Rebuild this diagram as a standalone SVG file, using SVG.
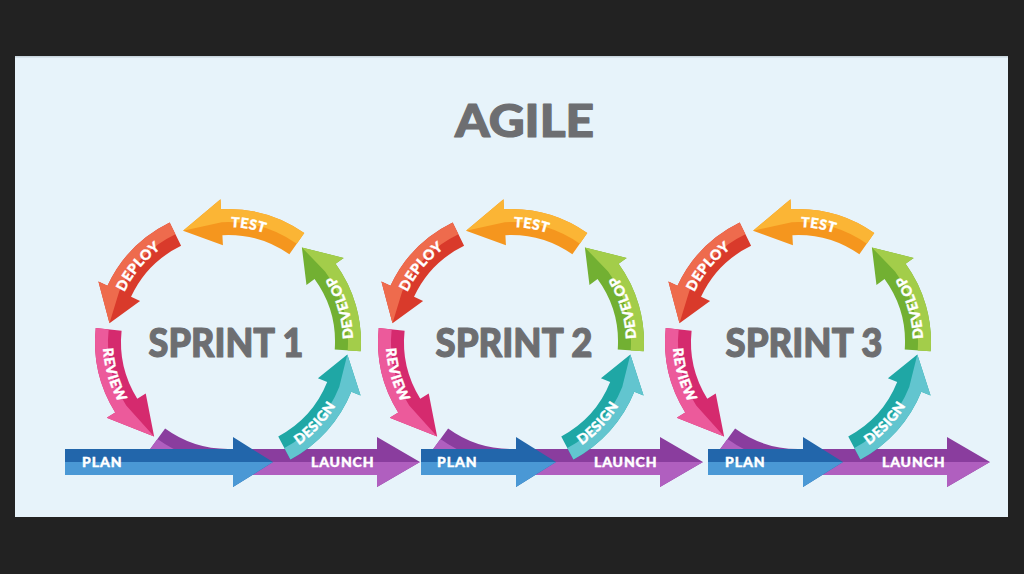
<svg xmlns="http://www.w3.org/2000/svg" width="1024" height="574" viewBox="0 0 1024 574">
<style>
.f{font-family:Lato,'Open Sans','Liberation Sans',sans-serif;font-weight:900}
.title{fill:#6d6e71;stroke:#6d6e71;stroke-width:1.2px;stroke-linejoin:round}
.lbl{fill:#ffffff;stroke:#ffffff;stroke-width:0.4px;font-size:14px;letter-spacing:0.5px}
.test-d{fill:#f5961e}.test-l{fill:#fbb535}
.deploy-d{fill:#d93a2b}.deploy-l{fill:#ee6b4d}
.review-d{fill:#d52a6e}.review-l{fill:#ec5a9b}
.develop-d{fill:#72b032}.develop-l{fill:#a3cd4a}
.design-d{fill:#1fa7a5}.design-l{fill:#62c5cf}
.plan-d{fill:#2266ab}.plan-l{fill:#4a98d5}
.launch-d{fill:#8a3d9e}.launch-l{fill:#b05fbf}
</style>
<defs>
<path id="design-full" d="M62.44,117.43 A133,133 0 0 0 123.32,49.82 L132.59,53.57 L119.34,12.54 L89.94,36.34 L99.21,40.08 A107,107 0 0 1 50.24,94.47 Z"/>
<path id="design-light" d="M62.44,117.43 A133,133 0 0 0 123.32,49.82 L132.59,53.57 L119.34,12.54 L111.26,44.95 A120,120 0 0 1 56.34,105.95 Z"/>
<path id="develop-full" d="M132.68,9.28 A133,133 0 0 0 107.60,-78.18 L115.69,-84.06 L73.88,-94.56 L78.47,-57.02 L86.56,-62.89 A107,107 0 0 1 106.74,7.47 Z"/>
<path id="develop-light" d="M132.68,9.28 A133,133 0 0 0 107.60,-78.18 L115.69,-84.06 L73.88,-94.56 L97.08,-70.54 A120,120 0 0 1 119.71,8.38 Z"/>
<path id="test-full" d="M76.29,-108.95 A133,133 0 0 0 -6.96,-132.81 L-7.48,-142.80 L-44.95,-111.26 L-5.07,-96.86 L-5.60,-106.85 A107,107 0 0 1 61.38,-87.65 Z"/>
<path id="test-light" d="M76.29,-108.95 A133,133 0 0 0 -6.96,-132.81 L-7.48,-142.80 L-44.95,-111.26 L-6.28,-119.83 A120,120 0 0 1 68.83,-98.30 Z"/>
<path id="deploy-full" d="M-58.31,-119.54 A133,133 0 0 0 -120.54,-56.21 L-129.60,-60.43 L-118.52,-18.77 L-87.91,-40.99 L-96.97,-45.22 A107,107 0 0 1 -46.91,-96.17 Z"/>
<path id="deploy-light" d="M-58.31,-119.54 A133,133 0 0 0 -120.54,-56.21 L-129.60,-60.43 L-118.52,-18.77 L-108.76,-50.71 A120,120 0 0 1 -52.61,-107.86 Z"/>
<path id="review-full" d="M-132.27,-13.90 A133,133 0 0 0 -112.78,70.48 L-121.26,75.78 L-73.88,94.56 L-82.26,51.40 L-90.74,56.70 A107,107 0 0 1 -106.41,-11.18 Z"/>
<path id="review-light" d="M-132.27,-13.90 A133,133 0 0 0 -112.78,70.48 L-121.26,75.78 L-73.88,94.56 L-101.76,63.59 A120,120 0 0 1 -119.34,-12.54 Z"/>
<path id="launch-full" d="M-78.18,107.60 A133,133 0 0 0 0,133 L149,133 L149,145 L192,120 L149,95 L149,107 L0,107 A107,107 0 0 1 -62.89,86.56 Z"/>
<path id="launch-light" d="M-78.18,107.60 A133,133 0 0 0 0,133 L149,133 L149,145 L192,120 L0,120 A120,120 0 0 1 -70.54,97.08 Z"/>
<path id="plan-full" d="M-90,107 L5,107 L5,95 L45,120 L5,145 L5,133 L-90,133 Z"/>
<path id="plan-light" d="M-90,120 L45,120 L5,145 L5,133 L-90,133 Z"/>
<path id="plan1-full" d="M-163,107 L5,107 L5,95 L45,120 L5,145 L5,133 L-163,133 Z"/>
<path id="plan1-light" d="M-163,120 L45,120 L5,145 L5,133 L-163,133 Z"/>
<path id="tp-test" d="M-57.5,-99.59 A115,115 0 0 1 88.10,-73.92"/>
<path id="tp-deploy" d="M-115,0 A115,115 0 0 1 -19.97,-113.25"/>
<path id="tp-review" d="M-114.19,-50.84 A125,125 0 0 0 -69.90,103.63"/>
<path id="tp-develop" d="M115.06,48.84 A125,125 0 0 0 68.08,-104.84"/>
<path id="tp-design" d="M15.23,124.07 A125,125 0 0 0 124.83,6.54"/>
</defs>
<rect width="1024" height="574" fill="#222222"/>
<rect x="15" y="56" width="993" height="461" fill="#e7f3fa"/>
<rect x="15" y="56" width="993" height="1.5" fill="#c9d6de"/>
<text id="title" class="f title" x="524.5" y="137" font-size="46" text-anchor="middle" textLength="139" lengthAdjust="spacingAndGlyphs">AGILE</text>

<g id="sprint1" transform="translate(228,342)">
  <g id="s1-launch"><use href="#launch-full" class="launch-d"/><use href="#launch-light" class="launch-l"/><text class="f lbl" x="83" y="125" textLength="63">LAUNCH</text></g>
  <g id="s1-plan"><use href="#plan1-full" class="plan-d"/><use href="#plan1-light" class="plan-l"/><text class="f lbl" x="-146" y="125" textLength="40">PLAN</text></g>
  <g id="s1-review"><use href="#review-full" class="review-d"/><use href="#review-light" class="review-l"/><text class="f lbl"><textPath href="#tp-review" startOffset="50%" text-anchor="middle">REVIEW</textPath></text></g>
  <g id="s1-deploy"><use href="#deploy-full" class="deploy-d"/><use href="#deploy-light" class="deploy-l"/><text class="f lbl"><textPath href="#tp-deploy" startOffset="50%" text-anchor="middle">DEPLOY</textPath></text></g>
  <g id="s1-test"><use href="#test-full" class="test-d"/><use href="#test-light" class="test-l"/><text class="f lbl"><textPath href="#tp-test" startOffset="50%" text-anchor="middle">TEST</textPath></text></g>
  <g id="s1-develop"><use href="#develop-full" class="develop-d"/><use href="#develop-light" class="develop-l"/><text class="f lbl"><textPath href="#tp-develop" startOffset="50%" text-anchor="middle">DEVELOP</textPath></text></g>
  <g id="s1-design"><use href="#design-full" class="design-d"/><use href="#design-light" class="design-l"/><text class="f lbl"><textPath href="#tp-design" startOffset="50%" text-anchor="middle">DESIGN</textPath></text></g>
  <text id="s1-title" class="f title" x="-2" y="15" font-size="40" text-anchor="middle" textLength="155" lengthAdjust="spacingAndGlyphs">SPRINT 1</text>
</g>

<g id="sprint2" transform="translate(511,342)">
  <g id="s2-launch"><use href="#launch-full" class="launch-d"/><use href="#launch-light" class="launch-l"/><text class="f lbl" x="83" y="125" textLength="63">LAUNCH</text></g>
  <g id="s2-plan"><use href="#plan-full" class="plan-d"/><use href="#plan-light" class="plan-l"/><text class="f lbl" x="-74" y="125" textLength="40">PLAN</text></g>
  <g id="s2-review"><use href="#review-full" class="review-d"/><use href="#review-light" class="review-l"/><text class="f lbl"><textPath href="#tp-review" startOffset="50%" text-anchor="middle">REVIEW</textPath></text></g>
  <g id="s2-deploy"><use href="#deploy-full" class="deploy-d"/><use href="#deploy-light" class="deploy-l"/><text class="f lbl"><textPath href="#tp-deploy" startOffset="50%" text-anchor="middle">DEPLOY</textPath></text></g>
  <g id="s2-test"><use href="#test-full" class="test-d"/><use href="#test-light" class="test-l"/><text class="f lbl"><textPath href="#tp-test" startOffset="50%" text-anchor="middle">TEST</textPath></text></g>
  <g id="s2-develop"><use href="#develop-full" class="develop-d"/><use href="#develop-light" class="develop-l"/><text class="f lbl"><textPath href="#tp-develop" startOffset="50%" text-anchor="middle">DEVELOP</textPath></text></g>
  <g id="s2-design"><use href="#design-full" class="design-d"/><use href="#design-light" class="design-l"/><text class="f lbl"><textPath href="#tp-design" startOffset="50%" text-anchor="middle">DESIGN</textPath></text></g>
  <text id="s2-title" class="f title" x="3" y="15" font-size="40" text-anchor="middle" textLength="157" lengthAdjust="spacingAndGlyphs">SPRINT 2</text>
</g>

<g id="sprint3" transform="translate(798,342)">
  <g id="s3-launch"><use href="#launch-full" class="launch-d"/><use href="#launch-light" class="launch-l"/><text class="f lbl" x="84" y="125" textLength="63">LAUNCH</text></g>
  <g id="s3-plan"><use href="#plan-full" class="plan-d"/><use href="#plan-light" class="plan-l"/><text class="f lbl" x="-73" y="125" textLength="40">PLAN</text></g>
  <g id="s3-review"><use href="#review-full" class="review-d"/><use href="#review-light" class="review-l"/><text class="f lbl"><textPath href="#tp-review" startOffset="50%" text-anchor="middle">REVIEW</textPath></text></g>
  <g id="s3-deploy"><use href="#deploy-full" class="deploy-d"/><use href="#deploy-light" class="deploy-l"/><text class="f lbl"><textPath href="#tp-deploy" startOffset="50%" text-anchor="middle">DEPLOY</textPath></text></g>
  <g id="s3-test"><use href="#test-full" class="test-d"/><use href="#test-light" class="test-l"/><text class="f lbl"><textPath href="#tp-test" startOffset="50%" text-anchor="middle">TEST</textPath></text></g>
  <g id="s3-develop"><use href="#develop-full" class="develop-d"/><use href="#develop-light" class="develop-l"/><text class="f lbl"><textPath href="#tp-develop" startOffset="50%" text-anchor="middle">DEVELOP</textPath></text></g>
  <g id="s3-design"><use href="#design-full" class="design-d"/><use href="#design-light" class="design-l"/><text class="f lbl"><textPath href="#tp-design" startOffset="50%" text-anchor="middle">DESIGN</textPath></text></g>
  <text id="s3-title" class="f title" x="6" y="15" font-size="40" text-anchor="middle" textLength="157" lengthAdjust="spacingAndGlyphs">SPRINT 3</text>
</g>
<g id="connectors"></g>
</svg>
